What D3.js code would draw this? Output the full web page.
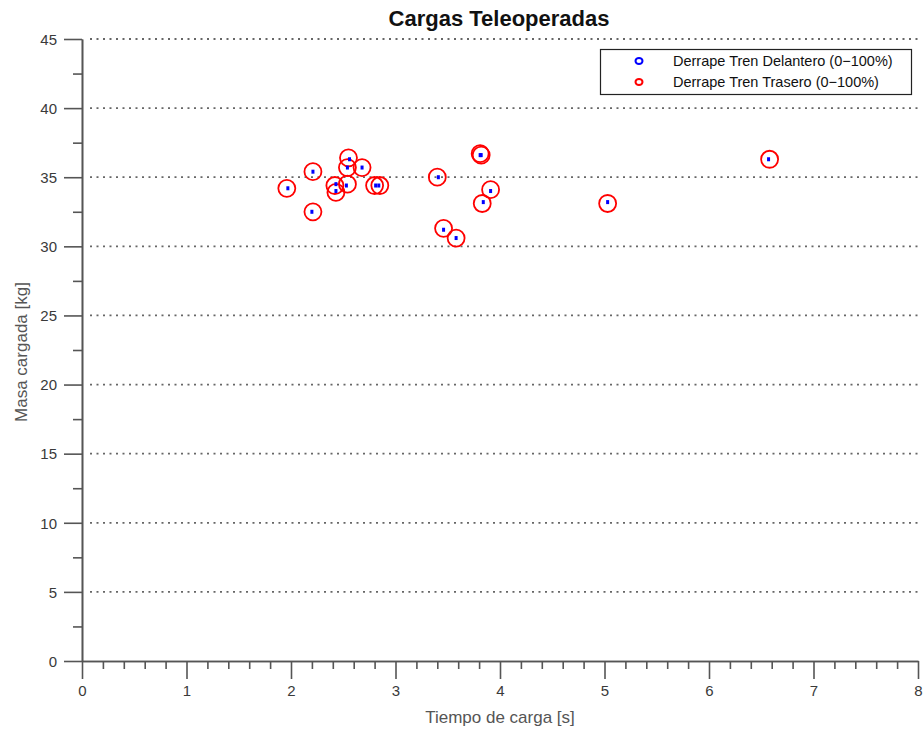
<!DOCTYPE html>
<html>
<head>
<meta charset="utf-8">
<script src="https://cdn.jsdelivr.net/npm/d3@7"></script>
<style>
  html, body { margin: 0; padding: 0; background: #fff; }
  svg { display: block; font-family: "Liberation Sans", Arial, sans-serif; }
</style>
</head>
<body>
<svg id="chart" width="924" height="732"></svg>
<script>
// ---- data ----
const title = "Cargas Teleoperadas";
const xLabel = "Tiempo de carga [s]";
const yLabel = "Masa cargada [kg]";
const seriesNames = ["Derrape Tren Delantero (0\u2212100%)", "Derrape Tren Trasero (0\u2212100%)"];

// Derrape Tren Delantero (blue)
const frontTime = [1.97, 2.21, 2.20, 2.43, 2.43, 2.53, 2.56, 2.54, 2.68, 2.81, 2.84, 3.41, 3.46, 3.58, 3.81, 3.82, 3.84, 3.91, 5.03, 6.57];
const frontMass = [34.2, 35.4, 32.5, 34.5, 34.0, 34.4, 36.3, 35.7, 35.7, 34.4, 34.4, 35.0, 31.2, 30.6, 36.6, 36.6, 33.2, 34.0, 33.2, 36.3];
// Derrape Tren Trasero (red)
const rearTime = [1.96, 2.21, 2.21, 2.42, 2.43, 2.54, 2.55, 2.54, 2.68, 2.80, 2.85, 3.40, 3.46, 3.58, 3.81, 3.82, 3.83, 3.91, 5.03, 6.58];
const rearMass = [34.2, 35.4, 32.5, 34.4, 33.9, 34.5, 36.4, 35.7, 35.7, 34.4, 34.4, 35.0, 31.3, 30.6, 36.7, 36.6, 33.1, 34.1, 33.1, 36.3];

const xMajorTicks = [0, 1, 2, 3, 4, 5, 6, 7, 8];
const yMajorTicks = [0, 5, 10, 15, 20, 25, 30, 35, 40, 45];

// ---- layout ----
const svg = d3.select("#chart");
const x = d3.scaleLinear().domain([0, 8]).range([82, 918]);
const y = d3.scaleLinear().domain([0, 45]).range([661, 39]);
const axisColor = "#555";
const labelColor = "#3a3a3a";

// grid
svg.append("g").selectAll("line")
  .data(yMajorTicks.filter(d => d > 0))
  .join("line")
  .attr("x1", 90).attr("x2", 920)
  .attr("y1", d => y(d)).attr("y2", d => y(d))
  .attr("stroke", "#666").attr("stroke-width", 1.8)
  .attr("stroke-dasharray", "2,4.5");

// minor ticks
const xMinor = d3.range(0, 8.0001, 0.2).map(v => +v.toFixed(1)).filter(v => !xMajorTicks.includes(v));
const yMinor = d3.range(2.5, 45, 5);

const xAxisMinor = svg.append("g").attr("transform", `translate(0,${y(0)})`)
  .call(d3.axisBottom(x).tickValues(xMinor).tickSize(8).tickSizeOuter(0).tickFormat(""));
const yAxisMinor = svg.append("g").attr("transform", `translate(${x(0)},0)`)
  .call(d3.axisLeft(y).tickValues(yMinor).tickSize(9).tickSizeOuter(0).tickFormat(""));

const xAxis = svg.append("g").attr("transform", `translate(0,${y(0)})`)
  .call(d3.axisBottom(x).tickValues(xMajorTicks).tickSize(18).tickSizeOuter(0).tickPadding(3).tickFormat(d3.format("d")));
const yAxis = svg.append("g").attr("transform", `translate(${x(0)},0)`)
  .call(d3.axisLeft(y).tickValues(yMajorTicks).tickSize(18).tickSizeOuter(0).tickPadding(7).tickFormat(d3.format("d")));

[xAxisMinor, yAxisMinor, xAxis, yAxis].forEach(g => {
  g.selectAll("path.domain").attr("stroke", axisColor).attr("stroke-width", 1.6);
  g.selectAll(".tick line").attr("stroke", axisColor).attr("stroke-width", 1.6);
  g.selectAll(".tick text").attr("fill", labelColor).attr("font-size", 15)
    .attr("font-family", "Liberation Sans, Arial, sans-serif");
});
xAxis.selectAll(".tick text").attr("dy", "0.95em");
yAxis.selectAll(".tick text").attr("dy", "0.35em");

// titles
svg.append("text").attr("x", 499).attr("y", 26).attr("text-anchor", "middle")
  .attr("font-size", 22).attr("font-weight", "bold").attr("fill", "#111").text(title);
svg.append("text").attr("x", 500).attr("y", 723).attr("text-anchor", "middle")
  .attr("font-size", 17).attr("fill", "#555").text(xLabel);
svg.append("text").attr("transform", `translate(27,352) rotate(-90)`).attr("text-anchor", "middle")
  .attr("font-size", 17).attr("fill", "#555").text(yLabel);

// marks
const rear = rearTime.map((t, i) => ({ t, m: rearMass[i] }));
const front = frontTime.map((t, i) => ({ t, m: frontMass[i] }));

svg.append("g").selectAll("circle").data(rear).join("circle")
  .attr("cx", d => x(d.t)).attr("cy", d => y(d.m)).attr("r", 8.5)
  .attr("fill", "none").attr("stroke", "#ff0000").attr("stroke-width", 1.8);
svg.append("g").selectAll("rect").data(front).join("rect")
  .attr("x", d => x(d.t) - 1.5).attr("y", d => y(d.m) - 2).attr("width", 3).attr("height", 4)
  .attr("fill", "#0000ff");

// legend
const lg = svg.append("g");
lg.append("rect").attr("x", 600.5).attr("y", 49.5).attr("width", 311).attr("height", 45)
  .attr("fill", "#fff").attr("stroke", "#222").attr("stroke-width", 1.2);
const legendColors = ["#0000ff", "#ff0000"];
seriesNames.forEach((name, i) => {
  const cy = 61 + i * 21;
  lg.append("ellipse").attr("cx", 639).attr("cy", cy).attr("rx", 3.5).attr("ry", 3)
    .attr("fill", "none").attr("stroke", legendColors[i]).attr("stroke-width", 2);
  lg.append("text").attr("x", 673).attr("y", cy + 5).attr("font-size", 14.5)
    .attr("fill", "#111").text(name);
});
</script>
</body>
</html>
